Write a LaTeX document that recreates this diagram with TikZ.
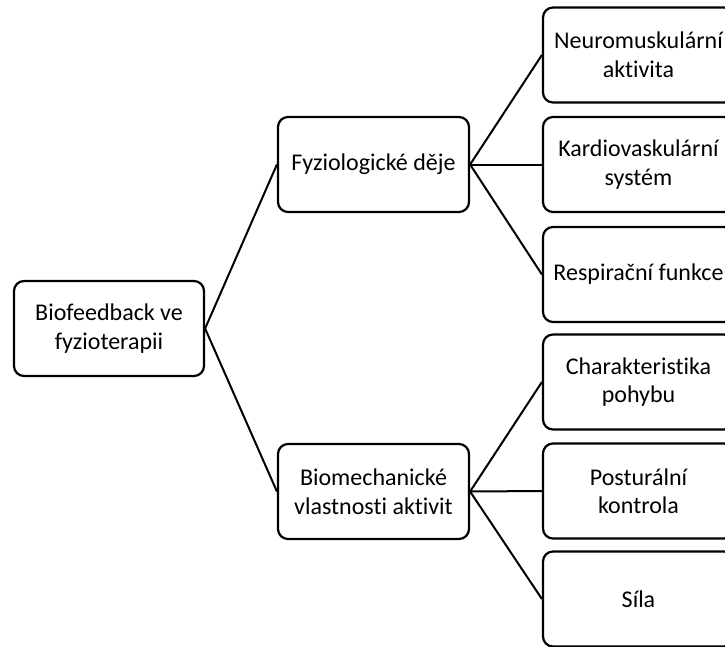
\documentclass[tikz,border=0pt]{standalone}
\usepackage{fontspec}
\setmainfont{Carlito}[Ligatures={NoCommon}]
\begin{document}
\begin{tikzpicture}[x=1pt,y=-1pt,
  box/.style={draw=black, line width=2.2pt, rounded corners=10pt, fill=white,
    minimum width=191pt, minimum height=95pt, align=center, inner sep=0pt,
    font=\fontsize{24}{28.5}\selectfont},
  conn/.style={draw=black, line width=2pt}]
\clip (0,0) rectangle (725,646);
\fill[white] (0,0) rectangle (725,646);
\node[box, minimum width=190pt] (root) at (109,328.5) {Biofeedback ve\\fyzioterapii};
\node[box] (fyz) at (373.5,164.5) {Fyziologické děje};
\node[box] (bio) at (373.5,491.5) {Biomechanické\\vlastnosti aktivit};
\node[box] (n1) at (638.5,55) {Neuromuskulární\\aktivita};
\node[box] (n2) at (638.5,164.5) {Kardiovaskulární\\systém};
\node[box] (n3) at (638.5,274.5) {Respirační funkce};
\node[box] (n4) at (638.5,382) {Charakteristika\\pohybu};
\node[box] (n5) at (638.5,491) {Posturální\\kontrola};
\node[box] (n6) at (638.5,599) {Síla};
\draw[conn] (root.east) -- (fyz.west);
\draw[conn] (root.east) -- (bio.west);
\draw[conn] (fyz.east) -- (n1.west);
\draw[conn] (fyz.east) -- (n2.west);
\draw[conn] (fyz.east) -- (n3.west);
\draw[conn] (bio.east) -- (n4.west);
\draw[conn] (bio.east) -- (n5.west);
\draw[conn] (bio.east) -- (n6.west);
\end{tikzpicture}
\end{document}
